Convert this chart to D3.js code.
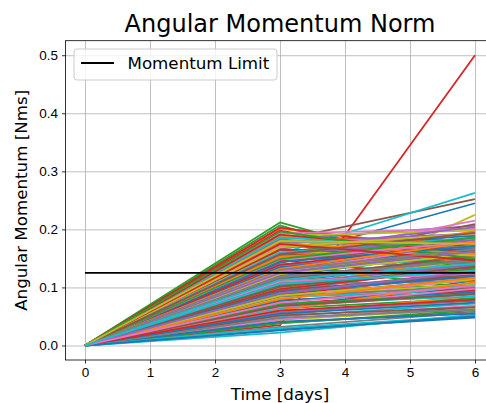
<!DOCTYPE html>
<meta charset="utf-8">
<style>
body { margin: 0; background: #fff; }
svg { display: block; font-family: "DejaVu Sans", sans-serif; }
.grid line { stroke: #b0b0b0; stroke-width: 0.8; }
.grid path { display: none; }
.axis path, .axis line { stroke: #000; stroke-width: 0.8; }
.axis text { font-size: 13.5px; fill: #000; }
</style>
<div id="chart"></div>
<script src="https://cdn.jsdelivr.net/npm/d3@7/dist/d3.min.js"></script>
<script>

// sample times (days) and the norm at each time, one entry per simulation run
var times = [0, 3, 6]

var day3 = [
  0.062, 0.118, 0.212, 0.035, 0.148, 0.091, 0.173, 0.054, 0.101, 0.083,
  0.152, 0.201, 0.094, 0.198, 0.067, 0.181, 0.122, 0.140, 0.044, 0.179,
  0.028, 0.088, 0.207, 0.112, 0.131, 0.059, 0.097, 0.165, 0.073, 0.158,
  0.109, 0.075, 0.142, 0.203, 0.183, 0.039, 0.151, 0.121, 0.134, 0.050,
  0.137, 0.161, 0.064, 0.087, 0.106, 0.126, 0.081, 0.032, 0.189, 0.117,
  0.046, 0.172, 0.117, 0.156, 0.093, 0.145, 0.193, 0.069, 0.125, 0.022,
  0.084, 0.052, 0.175, 0.128, 0.167, 0.104, 0.136, 0.091, 0.058, 0.141,
  0.119, 0.143, 0.038, 0.186, 0.057, 0.077, 0.113, 0.155, 0.098, 0.063,
  0.170, 0.099, 0.133, 0.071, 0.119, 0.163, 0.045, 0.106, 0.147, 0.096,
  0.041, 0.129, 0.089, 0.147, 0.177, 0.052, 0.159, 0.115, 0.082, 0.131,
  0.078, 0.187, 0.156, 0.097, 0.139, 0.114, 0.066, 0.178, 0.110, 0.186,
  0.135, 0.061, 0.124, 0.166, 0.085, 0.095, 0.127, 0.048, 0.161, 0.072,
  0.092, 0.153, 0.071, 0.191, 0.108, 0.143, 0.171, 0.085, 0.123, 0.160,
  0.055, 0.176, 0.102, 0.139, 0.158, 0.068, 0.110, 0.182, 0.086, 0.030,
  0.144, 0.080, 0.196, 0.060, 0.125, 0.101, 0.148, 0.118, 0.169, 0.106,
  0.026, 0.132, 0.149, 0.175, 0.090, 0.157, 0.074, 0.130, 0.180, 0.113
]

var day6 = [
  0.112, 0.143, 0.118, 0.500, 0.171, 0.128, 0.158, 0.082, 0.137, 0.096,
  0.245, 0.165, 0.104, 0.142, 0.088, 0.252, 0.134, 0.151, 0.063, 0.174,
  0.048, 0.121, 0.108, 0.153, 0.196, 0.077, 0.145, 0.161, 0.225, 0.263,
  0.147, 0.188, 0.097, 0.158, 0.206, 0.058, 0.215, 0.176, 0.166, 0.072,
  0.178, 0.192, 0.081, 0.123, 0.131, 0.163, 0.113, 0.057, 0.198, 0.145,
  0.066, 0.183, 0.152, 0.167, 0.139, 0.209, 0.201, 0.093, 0.118, 0.053,
  0.102, 0.086, 0.133, 0.172, 0.204, 0.141, 0.186, 0.119, 0.074, 0.126,
  0.163, 0.197, 0.061, 0.181, 0.078, 0.099, 0.157, 0.128, 0.149, 0.105,
  0.189, 0.154, 0.172, 0.095, 0.148, 0.176, 0.069, 0.111, 0.184, 0.137,
  0.055, 0.162, 0.127, 0.112, 0.193, 0.066, 0.169, 0.139, 0.107, 0.152,
  0.091, 0.174, 0.141, 0.134, 0.159, 0.155, 0.098, 0.143, 0.131, 0.167,
  0.168, 0.109, 0.163, 0.148, 0.116, 0.122, 0.177, 0.062, 0.155, 0.084,
  0.119, 0.171, 0.089, 0.161, 0.137, 0.181, 0.192, 0.101, 0.158, 0.186,
  0.074, 0.158, 0.132, 0.176, 0.182, 0.089, 0.124, 0.168, 0.114, 0.051,
  0.171, 0.117, 0.149, 0.079, 0.162, 0.136, 0.179, 0.146, 0.193, 0.129,
  0.050, 0.179, 0.186, 0.146, 0.127, 0.194, 0.103, 0.166, 0.175, 0.141
]

var momentumLimit = 0.125
var xTicks = [0, 1, 2, 3, 4, 5, 6]
var yTicks = [0.0, 0.1, 0.2, 0.3, 0.4, 0.5]

var tab10 = ["#1f77b4", "#ff7f0e", "#2ca02c", "#d62728", "#9467bd",
             "#8c564b", "#e377c2", "#7f7f7f", "#bcbd22", "#17becf"]

var width = 486, height = 403
var box = {left: 65.5, right: 494.5, top: 40.7, bottom: 360}

var x = d3.scaleLinear().domain([-0.3, 6.3]).range([box.left, box.right])
var y = d3.scaleLinear().domain([-0.025, 0.525]).range([box.bottom, box.top])

var svg = d3.select("#chart").append("svg")
    .attr("width", width)
    .attr("height", height)

// grid
svg.append("g").attr("class", "grid")
    .attr("transform", "translate(0," + box.bottom + ")")
    .call(d3.axisBottom(x).tickValues(xTicks).tickSize(-(box.bottom - box.top)).tickFormat(""))
svg.append("g").attr("class", "grid")
    .attr("transform", "translate(" + box.left + ",0)")
    .call(d3.axisLeft(y).tickValues(yTicks).tickSize(-(box.right - box.left)).tickFormat(""))

var runs = day3.map(function(v, i) {
  return [0, v, day6[i]]
})

var line = d3.line()
    .x(function(d, i) { return x(times[i]) })
    .y(function(d) { return y(d) })

svg.append("g")
  .selectAll("path")
    .data(runs)
  .enter().append("path")
    .attr("d", line)
    .attr("fill", "none")
    .attr("stroke", function(d, i) { return tab10[i % 10] })
    .attr("stroke-width", 1.8)
    .attr("stroke-linejoin", "round")

svg.append("line")
    .attr("x1", x(0)).attr("x2", x(6))
    .attr("y1", y(momentumLimit)).attr("y2", y(momentumLimit))
    .attr("stroke", "#000")
    .attr("stroke-width", 1.8)

// frame
svg.append("rect")
    .attr("x", box.left).attr("y", box.top)
    .attr("width", box.right - box.left).attr("height", box.bottom - box.top)
    .attr("fill", "none").attr("stroke", "#000").attr("stroke-width", 0.8)

var xAxis = svg.append("g").attr("class", "axis")
    .attr("transform", "translate(0," + box.bottom + ")")
    .call(d3.axisBottom(x).tickValues(xTicks).tickSize(3.5).tickPadding(4).tickFormat(d3.format("d")))
var yAxis = svg.append("g").attr("class", "axis")
    .attr("transform", "translate(" + box.left + ",0)")
    .call(d3.axisLeft(y).tickValues(yTicks).tickSize(3.5).tickPadding(4).tickFormat(d3.format(".1f")))
xAxis.select(".domain").remove()
yAxis.select(".domain").remove()

// legend
var leg = svg.append("g")
leg.append("rect")
    .attr("x", 74).attr("y", 49).attr("width", 203).attr("height", 31)
    .attr("rx", 3)
    .attr("fill", "#fff").attr("fill-opacity", 0.8)
    .attr("stroke", "#cccccc").attr("stroke-width", 1)
leg.append("line")
    .attr("x1", 81).attr("x2", 114).attr("y1", 63).attr("y2", 63)
    .attr("stroke", "#000").attr("stroke-width", 1.8)
leg.append("text")
    .attr("x", 127.5).attr("y", 69)
    .style("font-size", "16.7px")
    .text("Momentum Limit")

svg.append("text")
    .attr("x", (box.left + box.right) / 2).attr("y", 32)
    .attr("text-anchor", "middle")
    .style("font-size", "24px")
    .text("Angular Momentum Norm")

svg.append("text")
    .attr("x", (box.left + box.right) / 2).attr("y", 400)
    .attr("text-anchor", "middle")
    .style("font-size", "16.7px")
    .text("Time [days]")

svg.append("text")
    .attr("transform", "translate(27," + (box.top + box.bottom) / 2 + ") rotate(-90)")
    .attr("text-anchor", "middle")
    .style("font-size", "16.7px")
    .text("Angular Momentum [Nms]")

</script>
